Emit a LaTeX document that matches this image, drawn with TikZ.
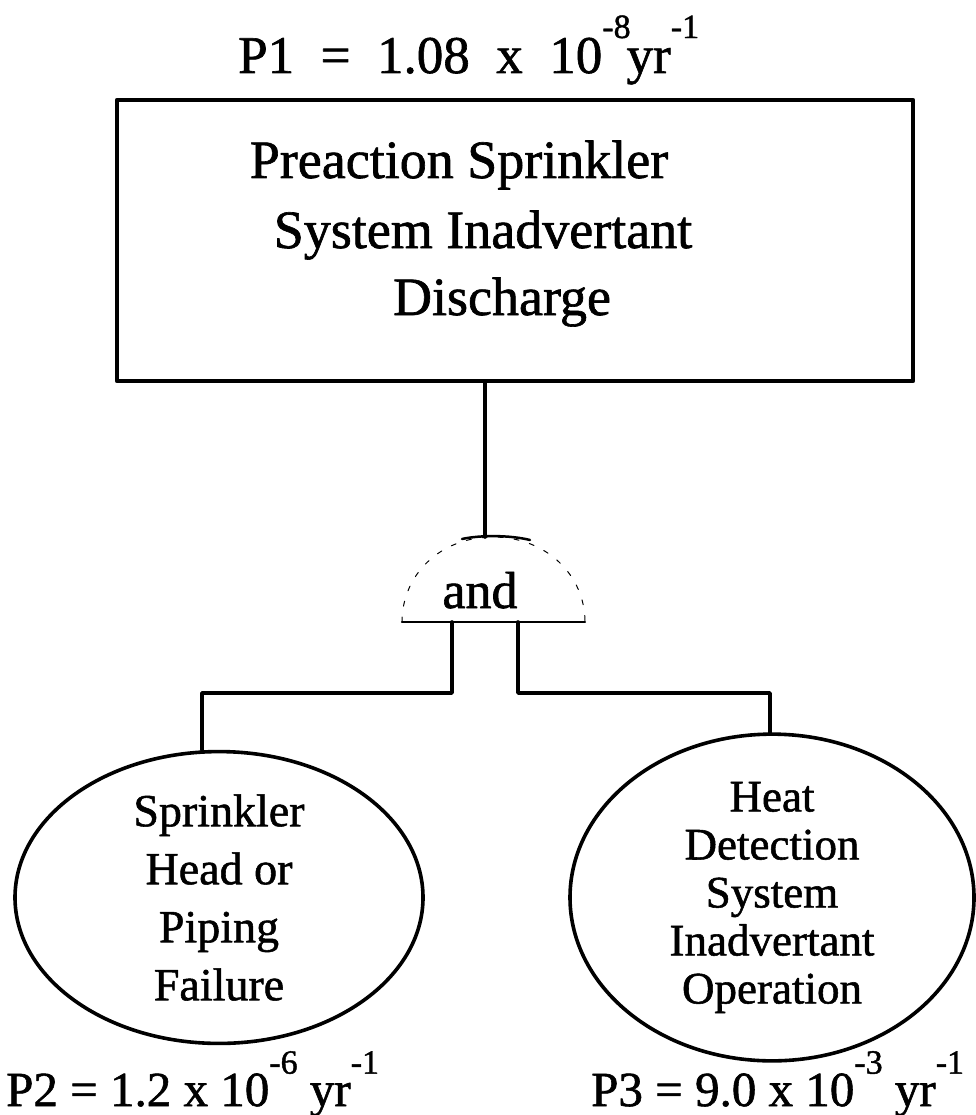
\documentclass[tikz,border=0pt]{standalone}
\usepackage{fontspec}
\setmainfont{Liberation Serif}[BoldFont=Liberation Serif,BoldFeatures={FakeBold=1.2}]
\usetikzlibrary{shapes.geometric}
\newcommand\supx[1]{\raisebox{0.66em}{\fontsize{34}{34}\selectfont #1}}
\newcommand\gap{\hspace{0.5em}}
\begin{document}
\begin{tikzpicture}[x=1pt,y=-1pt,line join=round,line cap=round,
  conn/.style={line width=3.6pt},
  titletxt/.style={anchor=base west,inner sep=0pt,font=\fontsize{53}{60}\selectfont\bfseries},
  boxtxt/.style={anchor=base,inner sep=0pt,font=\fontsize{54}{60}\selectfont\bfseries},
  evtbox/.style={draw,line width=4.5pt,rectangle,inner sep=0pt},
  basic/.style={draw,ellipse,line width=3.6pt,inner sep=0pt,align=center},
  probtxt/.style={anchor=base west,inner sep=0pt,font=\fontsize{49}{56}\selectfont\bfseries}]
\useasboundingbox (0,0) rectangle (975,1115);

% top probability
\node[titletxt] (p1) at (238,73) {P1\gap=\gap1.08\gap x\gap10\supx{-8}\kern-4pt yr\supx{-1}};

% top event box
\node[evtbox,minimum width=796pt,minimum height=281pt] (top) at (515,240.5) {};
\node[boxtxt] (l1) at (459,178) {Preaction Sprinkler};
\node[boxtxt] (l2) at (483,248) {System Inadvertant};
\node[boxtxt] (l3) at (502,315) {Discharge};

% and gate
\coordinate (gtop) at (485,537);
\coordinate (gL) at (402,622);
\coordinate (gR) at (585,622);
\draw[line width=1pt,dash pattern=on 5pt off 11pt] (gL) .. controls (402,575) and (440,537) .. (493,537) .. controls (546,537) and (585,575) .. (gR);
\draw[line width=2.5pt] (462,539) .. controls (480,535) and (510,535) .. (530,540);
\draw[line width=2.2pt] (gL) -- (gR);
\node[inner sep=0pt,anchor=base,font=\fontsize{52}{60}\selectfont\bfseries] (andtxt) at (480,608) {and};
\coordinate (gl) at (452,622);
\coordinate (gr) at (518,622);

% basic events
\node[basic,minimum width=408pt,minimum height=279pt,font=\fontsize{46}{58}\selectfont\bfseries] (e1) at (219,897.5)
  {Sprinkler\\Head or\\Piping\\Failure};
\node[basic,minimum width=404pt,minimum height=279pt,font=\fontsize{45}{48}\selectfont\bfseries] (e2) at (772,897.5)
  {Heat\\Detection\\System\\Inadvertant\\Operation};

% connectors
\draw[conn] (top.south -| gtop) -- (gtop);
\coordinate (c1) at (202,693);
\coordinate (c2) at (770,693);
\draw[conn] (gl) -- (gl |- c1) -- (c1) -- (c1 |- e1.north);
\draw[conn] (gr) -- (gr |- c2) -- (c2) -- (c2 |- e2.north);

% bottom probabilities
\node[probtxt] (p2) at (6,1106) {P2 = 1.2 x 10\supx{-6} yr\supx{-1}};
\node[probtxt] (p3) at (591,1106) {P3 = 9.0 x 10\supx{-3} yr\supx{-1}};
\end{tikzpicture}
\end{document}
